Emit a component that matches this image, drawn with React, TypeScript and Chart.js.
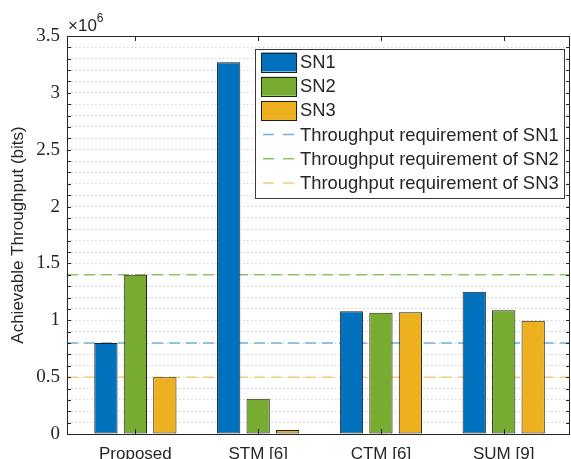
import React, { useEffect, useRef } from "react";
import { Chart, registerables } from "chart.js";

Chart.register(...registerables);

const categories = ["Proposed", "STM [6]", "CTM [6]", "SUM [9]"];
const seriesNames = ["SN1", "SN2", "SN3"];
const sn1Values = [0.8e6, 3.27e6, 1.08e6, 1.25e6];
const sn2Values = [1.4e6, 0.31e6, 1.067e6, 1.088e6];
const sn3Values = [0.5e6, 0.035e6, 1.07e6, 0.995e6];
const requirementNames = [
  "Throughput requirement of SN1",
  "Throughput requirement of SN2",
  "Throughput requirement of SN3",
];
const requirementValues = [0.8e6, 1.4e6, 0.5e6];

const barColors = ["#0072BD", "#77AC30", "#EDB120"];
const reqColors = ["#6cb4e2", "#93c163", "#f5ca7a"];
const TEXT = "#262626";
const SANS = "'Liberation Sans', Arial, Helvetica, sans-serif";
const SERIF = "'Liberation Serif', 'Times New Roman', serif";
const X_MIN = 0.443;
const X_MAX = 4.54;

const framePlugin = {
  id: "matlabFrame",
  afterDatasetsDraw(chart: any) {
    const { ctx, chartArea, scales } = chart;
    const { left, right, top, bottom } = chartArea;
    const x = scales.x;
    const y = scales.y;
    ctx.save();
    ctx.strokeStyle = TEXT;
    ctx.lineWidth = 1;
    y.ticks.forEach((t: any) => {
      const py = Math.round(y.getPixelForValue(t.value)) + 0.5;
      ctx.beginPath();
      ctx.moveTo(left, py);
      ctx.lineTo(left + 4, py);
      ctx.moveTo(right, py);
      ctx.lineTo(right - 4, py);
      ctx.stroke();
    });
    x.ticks.forEach((t: any) => {
      const px = Math.round(x.getPixelForValue(t.value)) + 0.5;
      ctx.beginPath();
      ctx.moveTo(px, bottom);
      ctx.lineTo(px, bottom - 5);
      ctx.moveTo(px, top);
      ctx.lineTo(px, top + 5);
      ctx.stroke();
    });
    ctx.beginPath();
    ctx.rect(Math.round(left) + 0.5, Math.round(top) + 0.5, Math.round(right - left) - 1, Math.round(bottom - top));
    ctx.stroke();

    ctx.fillStyle = TEXT;
    ctx.textBaseline = "alphabetic";
    ctx.textAlign = "left";
    ctx.font = `17px ${SANS}`;
    ctx.fillText("\u00d710", left + 1, 31);
    const w = ctx.measureText("\u00d710").width;
    ctx.font = `12px ${SANS}`;
    ctx.fillText("6", left + 1 + w, 22);

    const bx = 255.5, by = 49.5, bw = 309, bh = 149;
    ctx.fillStyle = "#ffffff";
    ctx.fillRect(bx, by, bw, bh);
    ctx.strokeStyle = "#3a3a3a";
    ctx.lineWidth = 1;
    ctx.strokeRect(bx, by, bw, bh);
    const labels = [...seriesNames, ...requirementNames];
    ctx.font = `18.4px ${SANS}`;
    ctx.textBaseline = "middle";
    labels.forEach((lab, i) => {
      const cy = 62 + i * 24.2;
      if (i < 3) {
        ctx.fillStyle = barColors[i];
        ctx.fillRect(261.5, cy - 9.5, 35, 19);
        ctx.strokeStyle = "#1f1f1f";
        ctx.strokeRect(261.5, Math.round(cy - 9.5) + 0.5, 35, 19);
      } else {
        ctx.strokeStyle = reqColors[i - 3];
        ctx.lineWidth = 1.5;
        ctx.beginPath();
        ctx.moveTo(263, cy);
        ctx.lineTo(274, cy);
        ctx.moveTo(283, cy);
        ctx.lineTo(294, cy);
        ctx.stroke();
        ctx.lineWidth = 1;
      }
      ctx.fillStyle = TEXT;
      ctx.fillText(lab, 300, cy + 1);
    });
    ctx.restore();
  },
};

export default function App() {
  const ref = useRef<HTMLCanvasElement | null>(null);
  useEffect(() => {
    if (!ref.current) return;
    const bars = [sn1Values, sn2Values, sn3Values];
    const chart = new Chart(ref.current, {
      type: "bar",
      data: {
        datasets: [
          ...bars.map((vals, k) => ({
            type: "bar" as const,
            label: seriesNames[k],
            data: vals.map((v, i) => ({ x: i + 1, y: v })),
            backgroundColor: barColors[k],
            borderColor: "#1f1f1f",
            borderWidth: 1,
            borderSkipped: false,
            categoryPercentage: 0.72,
            barPercentage: 0.79,
            order: 0,
          })),
          ...requirementValues.map((r, k) => ({
            type: "line" as const,
            label: requirementNames[k],
            data: [
              { x: X_MIN, y: r },
              { x: X_MAX, y: r },
            ],
            borderColor: reqColors[k],
            borderWidth: 1.5,
            borderDash: [11, 6],
            pointRadius: 0,
            fill: false,
            order: 1,
          })),
        ],
      } as any,
      plugins: [framePlugin],
      options: {
        responsive: false,
        animation: false,
        layout: { padding: { top: 36, right: 1, left: 0, bottom: 0 } },
        plugins: { legend: { display: false }, tooltip: { enabled: false } },
        scales: {
          x: {
            type: "linear",
            min: X_MIN,
            max: X_MAX,
            offset: false,
            grid: { display: false, offset: false, drawTicks: false },
            border: { display: false },
            afterBuildTicks: (s: any) => {
              s.ticks = categories.map((_, i) => ({ value: i + 1 }));
            },
            afterFit: (s: any) => {
              s.height = 25;
            },
            ticks: {
              autoSkip: false,
              maxRotation: 0,
              padding: 10,
              color: TEXT,
              font: { family: SANS, size: 17 },
              callback: (v: any) => categories[Math.round(v) - 1] ?? "",
            },
          },
          y: {
            min: 0,
            max: 3.5e6,
            grid: { color: "#cfcfcf", lineWidth: 1, drawTicks: false },
            border: { display: false, dash: [1.5, 2.5] },
            afterFit: (s: any) => {
              s.width = 67;
            },
            ticks: {
              stepSize: 1e5,
              autoSkip: false,
              padding: 7,
              color: TEXT,
              font: { family: SERIF, size: 19 },
              callback: (v: any) =>
                Math.round(v / 1e5) % 5 === 0 ? String(Math.round(v / 1e5) / 10) : "",
            },
            title: {
              display: true,
              text: "Achievable Throughput (bits)",
              color: TEXT,
              font: { family: SANS, size: 17 },
              padding: { top: 8, bottom: 0 },
            },
          },
        },
      } as any,
    });
    return () => chart.destroy();
  }, []);
  return (
    <div style={{ position: "absolute", left: 0, top: 0, width: 571, height: 459, background: "#fff" }}>
      <canvas ref={ref} width={571} height={459} style={{ display: "block" }} />
    </div>
  );
}
